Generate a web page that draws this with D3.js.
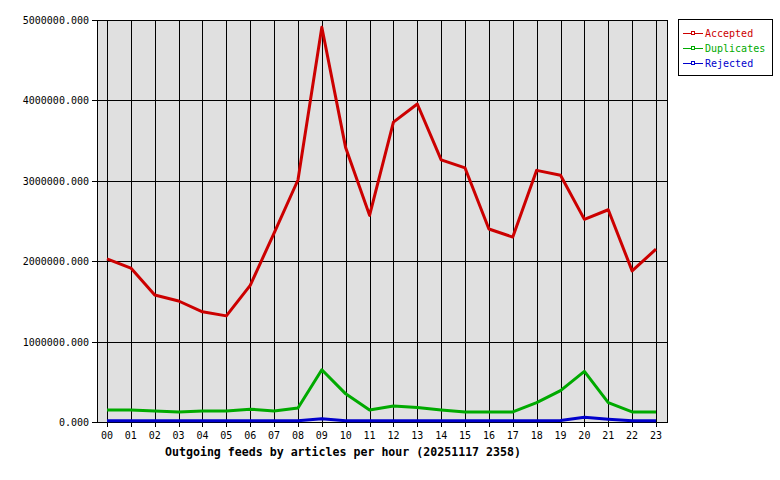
<!DOCTYPE html>
<html><head><meta charset="utf-8">
<script src="https://cdn.jsdelivr.net/npm/d3@7"></script>
<style>body{margin:0;background:#fff}svg{display:block}</style>
</head><body>
<script>
const hours = ["00","01","02","03","04","05","06","07","08","09","10","11","12","13","14","15","16","17","18","19","20","21","22","23"];
const accepted = [2030000,1915000,1580000,1505000,1370000,1320000,1700000,2350000,3010000,4910000,3410000,2570000,3730000,3955000,3260000,3160000,2400000,2300000,3130000,3070000,2520000,2640000,1880000,2150000];
const duplicates = [150000,150000,137000,125000,137000,137000,160000,137000,175000,650000,350000,150000,200000,180000,150000,125000,125000,125000,240000,390000,630000,240000,125000,125000];
const rejected = [15000,15000,15000,15000,15000,15000,15000,15000,15000,40000,15000,15000,15000,15000,15000,15000,15000,15000,15000,20000,60000,35000,15000,15000];
const yTicks = [0,1000000,2000000,3000000,4000000,5000000];
const seriesNames = ["Accepted","Duplicates","Rejected"];
const seriesColors = ["#cc0000","#00aa00","#0000cc"];
const title = "Outgoing feeds by articles per hour (20251117 2358)";

const W=780,H=480;
const L=97,R=667,T=20,B=422;
const svg=d3.select("body").append("svg").attr("width",W).attr("height",H);
const x=d3.scalePoint().domain(hours).range([107,656]);
const y=d3.scaleLinear().domain([0,5000000]).range([B,T]);
const mono="'DejaVu Sans Mono', monospace";

svg.append("rect").attr("x",L).attr("y",T).attr("width",R-L).attr("height",B-T).attr("fill","#e0e0e0");

const g=svg.append("g").attr("shape-rendering","crispEdges");
// vertical grid
g.selectAll("line.v").data(hours).join("line")
 .attr("x1",d=>Math.round(x(d))+0.5).attr("x2",d=>Math.round(x(d))+0.5)
 .attr("y1",T).attr("y2",B+5).attr("stroke","#000");
// horizontal grid
g.selectAll("line.h").data(yTicks).join("line")
 .attr("x1",L-5).attr("x2",R).attr("y1",d=>Math.round(y(d))+0.5).attr("y2",d=>Math.round(y(d))+0.5).attr("stroke","#000");
// frame
g.append("line").attr("x1",L+0.5).attr("x2",L+0.5).attr("y1",T).attr("y2",B+1).attr("stroke","#000");
g.append("line").attr("x1",R+0.5).attr("x2",R+0.5).attr("y1",T).attr("y2",B+1).attr("stroke","#000");

svg.selectAll("text.yl").data(yTicks).join("text")
 .attr("x",89).attr("y",d=>y(d)+4).attr("text-anchor","end")
 .attr("font-family",mono).attr("font-size","10px").text(d=>d3.format(".3f")(d));
svg.selectAll("text.xl").data(hours).join("text")
 .attr("x",d=>x(d)).attr("y",439).attr("text-anchor","middle")
 .attr("font-family",mono).attr("font-size","10px").text(d=>d);

const series=[accepted,duplicates,rejected];
const line=d3.line().x((d,i)=>x(hours[i])).y(d=>y(d));
series.forEach((s,k)=>{
  svg.append("path").attr("d",line(s)).attr("fill","none").attr("stroke",seriesColors[k])
   .attr("stroke-width",3).attr("stroke-linejoin","round");
});

svg.append("text").attr("x",343).attr("y",456).attr("text-anchor","middle")
 .attr("font-family",mono).attr("font-size","11.6px").attr("font-weight","bold").text(title);

// legend
const lg=svg.append("g");
lg.append("rect").attr("x",678.5).attr("y",19.5).attr("width",94).attr("height",56).attr("fill","#fff").attr("stroke","#000").attr("shape-rendering","crispEdges");
seriesNames.forEach((n,k)=>{
  const yy=33+k*15;
  lg.append("line").attr("x1",683).attr("x2",703).attr("y1",yy+0.5).attr("y2",yy+0.5).attr("stroke",seriesColors[k]).attr("shape-rendering","crispEdges");
  lg.append("rect").attr("x",691.5).attr("y",yy-1.5).attr("width",3).attr("height",3).attr("fill","#fff").attr("stroke",seriesColors[k]).attr("shape-rendering","crispEdges");
  lg.append("text").attr("x",705).attr("y",yy+4).attr("font-family",mono).attr("font-size","10px").attr("fill",seriesColors[k]).text(n);
});
</script>
</body></html>
